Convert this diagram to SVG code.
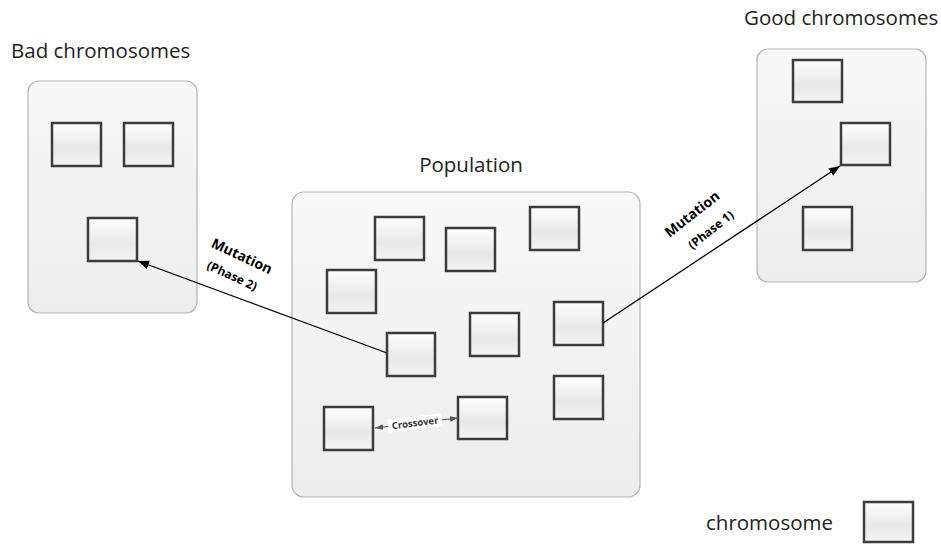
<svg xmlns="http://www.w3.org/2000/svg" width="941" height="544" viewBox="0 0 941 544">
<defs>
<linearGradient id="gc" x1="0" y1="0" x2="0" y2="1">
<stop offset="0" stop-color="#f8f8f8"/>
<stop offset="1" stop-color="#ededed"/>
</linearGradient>
<linearGradient id="gs" x1="0" y1="0" x2="0" y2="1">
<stop offset="0" stop-color="#fefefe"/>
<stop offset="0.6" stop-color="#e8e8e8"/>
<stop offset="1" stop-color="#f4f4f4"/>
</linearGradient>
<marker id="ah" viewBox="0 0 10 10" refX="10" refY="5" markerWidth="11" markerHeight="11" markerUnits="userSpaceOnUse" orient="auto">
<path d="M0,1 L10,5 L0,9 Z" fill="#000"/>
</marker>
<marker id="ahg" viewBox="0 0 10 10" refX="10" refY="5" markerWidth="8" markerHeight="8" markerUnits="userSpaceOnUse" orient="auto-start-reverse">
<path d="M0,1.5 L10,5 L0,8.5 Z" fill="#555"/>
</marker>
</defs>
<style>
.cont{fill:url(#gc);stroke:#b4b4b4;stroke-width:1.2}
.sq{fill:url(#gs);stroke:#3c3c3c;stroke-width:2.5}
.title{font-family:"Open Sans","Liberation Sans",sans-serif;font-size:20.5px;fill:#222}
.mut{font-family:"Open Sans","Liberation Sans",sans-serif;font-size:14px;font-weight:bold;fill:#000}
.ph{font-family:"Open Sans","Liberation Sans",sans-serif;font-size:12px;font-weight:bold;fill:#000}
.cx{font-family:"Open Sans","Liberation Sans",sans-serif;font-size:9.5px;font-weight:bold;fill:#333}
.ln{stroke:#000;stroke-width:1.3;fill:none}
</style>

<g id="bad-chromosomes">
<text class="title" x="11" y="58">Bad chromosomes</text>
<rect class="cont" x="28" y="81" width="169" height="232" rx="11"/>
<rect class="sq" x="52" y="123" width="49" height="43"/>
<rect class="sq" x="124" y="123" width="49" height="43"/>
<rect class="sq" x="88" y="218" width="49" height="43"/>
</g>

<g id="population">
<text class="title" x="471" y="172" text-anchor="middle">Population</text>
<rect class="cont" x="292" y="192" width="348" height="305" rx="12"/>
<rect class="sq" x="375" y="217" width="49" height="43"/>
<rect class="sq" x="446" y="228" width="49" height="43"/>
<rect class="sq" x="530" y="207" width="49" height="43"/>
<rect class="sq" x="327" y="270" width="49" height="43"/>
<rect class="sq" x="470" y="313" width="49" height="43"/>
<rect class="sq" x="554" y="302" width="49" height="43"/>
<rect class="sq" x="387" y="333" width="48" height="43"/>
<rect class="sq" x="554" y="376" width="49" height="43"/>
<rect class="sq" x="324" y="407" width="49" height="43"/>
<rect class="sq" x="458" y="397" width="49" height="42"/>
</g>

<g id="good-chromosomes">
<text class="title" x="744" y="25">Good chromosomes</text>
<rect class="cont" x="757" y="49" width="169" height="233" rx="11"/>
<rect class="sq" x="793" y="60" width="49" height="42"/>
<rect class="sq" x="841" y="123" width="49" height="42"/>
<rect class="sq" x="803" y="207" width="49" height="43"/>
</g>

<g id="legend">
<text class="title" x="706" y="530">chromosome</text>
<rect class="sq" x="864" y="502" width="49" height="40"/>
</g>

<g id="connectors">
<line class="ln" x1="387" y1="353" x2="138" y2="261" marker-end="url(#ah)"/>
<line class="ln" x1="603" y1="323" x2="840" y2="166" marker-end="url(#ah)"/>
<line x1="375" y1="428" x2="458" y2="418" stroke="#555" stroke-width="1.2" marker-start="url(#ahg)" marker-end="url(#ahg)"/>
<g transform="translate(242,256) rotate(25)">
<text class="mut" x="0" y="5" text-anchor="middle">Mutation</text>
</g>
<g transform="translate(232,276) rotate(25)">
<text class="ph" x="0" y="4" text-anchor="middle">(Phase 2)</text>
</g>
<g transform="translate(692,214) rotate(-38)">
<text class="mut" x="0" y="5" text-anchor="middle">Mutation</text>
</g>
<g transform="translate(711,230) rotate(-38)">
<text class="ph" x="0" y="4" text-anchor="middle">(Phase 1)</text>
</g>
<g transform="translate(415,423) rotate(-7)">
<rect x="-27" y="-6.5" width="54" height="13" fill="#fff"/>
<text class="cx" x="0" y="3.3" text-anchor="middle">Crossover</text>
</g>
</g>
</svg>
